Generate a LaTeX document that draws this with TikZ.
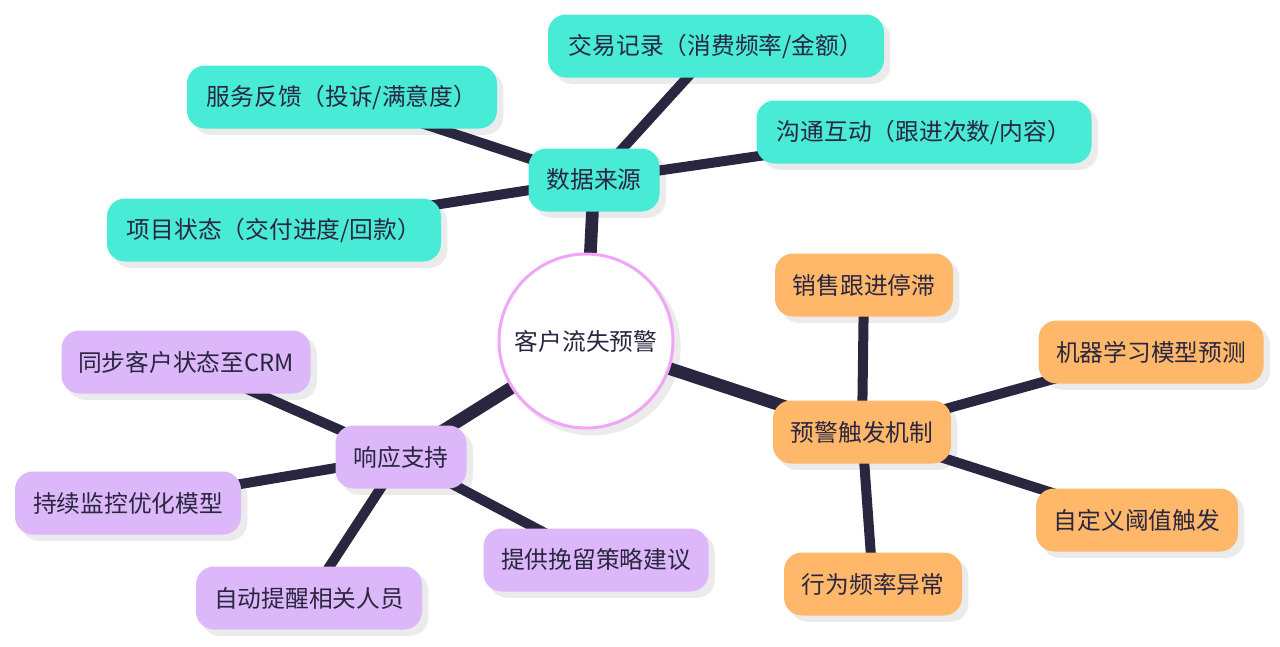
\documentclass[tikz,border=0pt]{standalone}
\usepackage{fontspec}
\setmainfont{Noto Sans CJK SC}
\usetikzlibrary{calc}
\definecolor{tealc}{HTML}{48ECD6}
\definecolor{orangec}{HTML}{FFB86A}
\definecolor{purplec}{HTML}{DCB8FA}
\definecolor{textc}{HTML}{2B2640}
\definecolor{linec}{HTML}{2B2640}
\definecolor{pinkc}{HTML}{F0A6F6}
\definecolor{shadowc}{HTML}{EBEBEB}
\pgfdeclarelayer{bg}
\pgfdeclarelayer{shadow}
\pgfdeclarelayer{edges}
\pgfsetlayers{bg,shadow,edges,main}
\tikzset{
  box/.style={rectangle, rounded corners=13.5pt, minimum height=47.25pt, inner sep=0pt,
    text=textc, font=\fontsize{17.8pt}{21pt}\selectfont},
  tealbox/.style={box, fill=tealc},
  orangebox/.style={box, fill=orangec},
  purplebox/.style={box, fill=purplec},
  mainedge/.style={draw=linec, line width=9.5pt},
  subedge/.style={draw=linec, line width=7.5pt},
}
\begin{document}
\begin{tikzpicture}[x=0.75pt, y=-0.75pt]
\begin{pgfonlayer}{bg}
\fill[white] (0,0) rectangle (1280,646);
\end{pgfonlayer}
\useasboundingbox (0,0) rectangle (1280,646);

\node[circle, fill=white, draw=pinkc, line width=2.25pt, minimum size=130.5pt, inner sep=0pt,
  text=textc, font=\fontsize{17.8pt}{21pt}\selectfont] (c) at (586,341) {客户流失预警};

\node[tealbox, minimum width=98.25pt] (ds) at (594,180) {数据来源};
\node[tealbox, minimum width=252pt] (jy) at (716,46) {交易记录（消费频率/金额）};
\node[tealbox, minimum width=232.5pt] (fw) at (342,97) {服务反馈（投诉/满意度）};
\node[tealbox, minimum width=251.25pt] (gt) at (924,132) {沟通互动（跟进次数/内容）};
\node[tealbox, minimum width=250.5pt] (xm) at (274,230) {项目状态（交付进度/回款）};

\node[orangebox, minimum width=133.5pt] (yj) at (862,432) {预警触发机制};
\node[orangebox, minimum width=133.5pt] (xs) at (864,285) {销售跟进停滞};
\node[orangebox, minimum width=168.75pt] (jq) at (1151,352) {机器学习模型预测};
\node[orangebox, minimum width=151.5pt] (zd) at (1137,520) {自定义阈值触发};
\node[orangebox, minimum width=133.5pt] (xw) at (873,584) {行为频率异常};

\node[purplebox, minimum width=98.25pt] (xy) at (401,457) {响应支持};
\node[purplebox, minimum width=186.75pt] (tb) at (186,362) {同步客户状态至CRM};
\node[purplebox, minimum width=169.5pt] (cx) at (128,503) {持续监控优化模型};
\node[purplebox, minimum width=169.5pt] (zt) at (309,598) {自动提醒相关人员};
\node[purplebox, minimum width=168.75pt] (tg) at (596,560) {提供挽留策略建议};

\begin{pgfonlayer}{shadow}
\foreach \n in {ds,jy,fw,gt,xm,yj,xs,jq,zd,xw,xy,tb,cx,zt,tg}
  \fill[shadowc, rounded corners=13.5pt] ([shift={(4.5pt,-4.5pt)}]\n.south west) rectangle ([shift={(4.5pt,-4.5pt)}]\n.north east);
\fill[shadowc] ([shift={(4.5pt,-4.5pt)}]c.center) circle[radius=66.5pt];
\end{pgfonlayer}

\begin{pgfonlayer}{edges}
\draw[mainedge] (c.center) -- (ds.center);
\draw[mainedge] (c.center) -- (yj.center);
\draw[mainedge] (c.center) -- (xy.center);
\foreach \n in {jy,fw,gt,xm} \draw[subedge] (ds.center) -- (\n.center);
\foreach \n in {xs,jq,zd,xw} \draw[subedge] (yj.center) -- (\n.center);
\foreach \n in {tb,cx,zt,tg} \draw[subedge] (xy.center) -- (\n.center);
\end{pgfonlayer}
\end{tikzpicture}
\end{document}
